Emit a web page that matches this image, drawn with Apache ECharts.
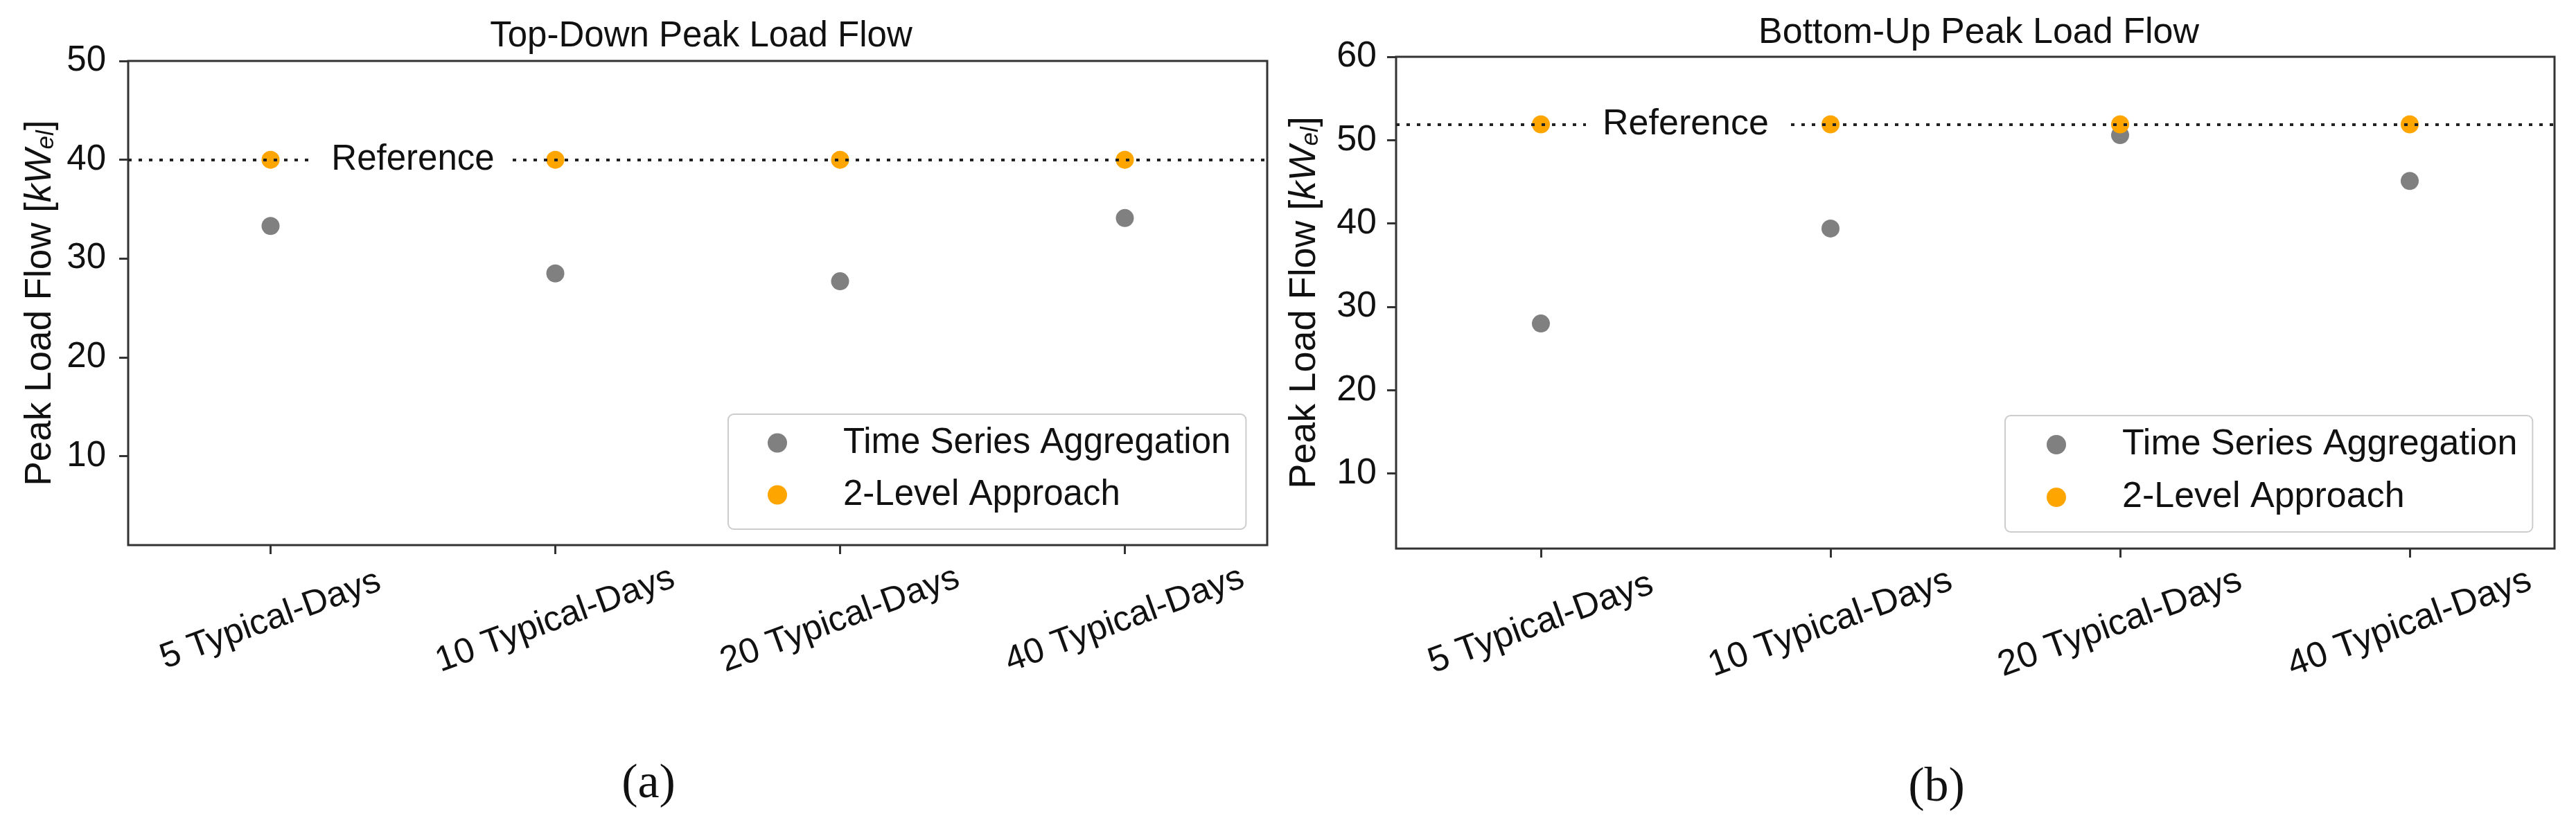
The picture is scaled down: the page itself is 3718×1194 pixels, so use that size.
<!DOCTYPE html>
<html>
<head>
<meta charset="utf-8">
<script src="https://cdn.jsdelivr.net/npm/echarts@6/dist/echarts.min.js"></script>
<style>
  html, body { margin: 0; padding: 0; background: #fff; }
  #chart { width: 3718px; height: 1194px; }
</style>
</head>
<body>
<div id="chart"></div>
<script>
  const CATEGORIES = ["5 Typical-Days", "10 Typical-Days", "20 Typical-Days", "40 Typical-Days"];

  const TOP_DOWN_TSA = [33.3, 28.5, 27.7, 34.1];
  const TOP_DOWN_2L = [40, 40, 40, 40];
  const TOP_DOWN_REF = 40;
  const TOP_DOWN_TICKS = [10, 20, 30, 40, 50];

  const BOTTOM_UP_TSA = [28.0, 39.4, 50.6, 45.1];
  const BOTTOM_UP_2L = [51.9, 51.9, 51.9, 51.9];
  const BOTTOM_UP_REF = 51.9;
  const BOTTOM_UP_TICKS = [10, 20, 30, 40, 50, 60];

  // "Reference" text sits halfway between the first two categories
  const REF_LABEL_X = 0.5;

  const TSA_NAME = "Time Series Aggregation";
  const TWO_LEVEL_NAME = "2-Level Approach";
  const FONT = "'Liberation Sans', Arial, sans-serif";
  const AXIS_COLOR = "#333333";

  function yAxisFor(idx, max, ticks, fs, margin, nameGap) {
    const nfs = fs + 2;
    return {
      type: "value",
      gridIndex: idx,
      min: 1,
      max: max,
      name: "{a|Peak Load Flow [}{b|kW}{c|el}{a|]}",
      nameLocation: "middle",
      nameGap: nameGap,
      nameTextStyle: {
        fontFamily: FONT,
        rich: {
          a: { fontSize: nfs, fontFamily: FONT, color: "#111" },
          b: { fontSize: nfs, fontFamily: FONT, fontStyle: "italic", color: "#111" },
          c: { fontSize: 35, fontFamily: FONT, fontStyle: "italic", color: "#111",
               verticalAlign: "bottom", lineHeight: 40 },
        },
      },
      axisLine: { show: false, onZero: false },
      splitLine: { show: false },
      axisTick: {
        show: true,
        length: 13,
        customValues: ticks,
        lineStyle: { color: AXIS_COLOR, width: 3 },
      },
      axisLabel: {
        customValues: ticks,
        margin: margin,
        fontSize: fs,
        fontFamily: FONT,
        color: "#111",
      },
    };
  }

  function xAxisFor(idx, fs) {
    return {
      type: "category",
      gridIndex: idx,
      data: CATEGORIES,
      boundaryGap: true,
      axisLine: { show: false, onZero: false },
      axisTick: {
        show: true,
        alignWithLabel: true,
        length: 13,
        lineStyle: { color: AXIS_COLOR, width: 3 },
      },
      axisLabel: {
        interval: 0,
        rotate: 20,
        align: "center",
        verticalAlign: "middle",
        margin: 108,
        fontSize: fs,
        fontFamily: FONT,
        color: "#111",
      },
    };
  }

  // hidden value axis spanning the same band as the categories, used to place the text
  function helperXAxis(idx) {
    return {
      type: "value",
      gridIndex: idx,
      min: -0.5,
      max: CATEGORIES.length - 0.5,
      show: false,
    };
  }

  function seriesFor(idx, tsa, twoLevel, ref, fs) {
    return [
      {
        name: TSA_NAME,
        type: "scatter",
        xAxisIndex: idx,
        yAxisIndex: idx,
        symbolSize: 26,
        itemStyle: { color: "#808080", opacity: 1 },
        data: tsa,
      },
      {
        name: TWO_LEVEL_NAME,
        type: "scatter",
        xAxisIndex: idx,
        yAxisIndex: idx,
        symbolSize: 26,
        itemStyle: { color: "#ffa500", opacity: 1 },
        data: twoLevel,
        markLine: {
          z: 6,
          silent: true,
          symbol: "none",
          label: { show: false },
          lineStyle: { color: "#222", width: 4, type: [5, 10] },
          data: [{ yAxis: ref }],
        },
      },
      {
        name: "ref-label",
        type: "scatter",
        xAxisIndex: idx + 2,
        yAxisIndex: idx,
        z: 8,
        silent: true,
        symbol: "rect",
        symbolSize: 1,
        itemStyle: { color: "#fff", opacity: 1 },
        label: {
          show: true,
          position: "inside",
          formatter: "Reference",
          fontSize: fs,
          fontFamily: FONT,
          color: "#111",
          backgroundColor: "#fff",
          padding: [2, 24],
        },
        data: [[REF_LABEL_X, ref]],
      },
    ];
  }

  function legendFor(left, top, fs, padLeft, textPad) {
    return {
      orient: "vertical",
      left: left,
      top: top,
      selectedMode: false,
      icon: "circle",
      itemWidth: 28,
      itemHeight: 28,
      itemGap: 24,
      padding: [16, 22, 24, padLeft],
      backgroundColor: "#fff",
      borderColor: "#cccccc",
      borderWidth: 2,
      borderRadius: 8,
      textStyle: {
        fontSize: fs,
        lineHeight: fs,
        fontFamily: FONT,
        color: "#111",
        padding: [0, 0, 0, textPad],
      },
      data: [TSA_NAME, TWO_LEVEL_NAME],
    };
  }

  const chart = echarts.init(document.getElementById("chart"));

  chart.setOption({
    animation: false,
    backgroundColor: "#fff",
    title: [
      {
        text: "Top-Down Peak Load Flow",
        left: 1007,
        top: 22,
        textAlign: "center",
        textStyle: { fontSize: 51, fontWeight: "normal", fontFamily: FONT, color: "#111" },
      },
      {
        text: "Bottom-Up Peak Load Flow",
        left: 2851,
        top: 17,
        textAlign: "center",
        textStyle: { fontSize: 52, fontWeight: "normal", fontFamily: FONT, color: "#111" },
      },
    ],
    grid: [
      { left: 185, top: 88, width: 1644, height: 699, show: true,
        borderColor: AXIS_COLOR, borderWidth: 3, backgroundColor: "#fff" },
      { left: 2015, top: 82, width: 1672, height: 710, show: true,
        borderColor: AXIS_COLOR, borderWidth: 3, backgroundColor: "#fff" },
    ],
    xAxis: [xAxisFor(0, 51), xAxisFor(1, 52), helperXAxis(0), helperXAxis(1)],
    yAxis: [
      yAxisFor(0, 50, TOP_DOWN_TICKS, 51, 32, 100),
      yAxisFor(1, 60, BOTTOM_UP_TICKS, 52, 28, 105),
    ],
    legend: [
      legendFor(1051, 598, 51, 57, 76),
      legendFor(2894, 600, 52, 60, 76),
    ],
    graphic: [
      { type: "text", x: 936, y: 1133,
        style: { text: "(a)", font: "70px 'Liberation Serif', serif", fill: "#111",
                 textAlign: "center", textVerticalAlign: "middle" } },
      { type: "text", x: 2795, y: 1138,
        style: { text: "(b)", font: "70px 'Liberation Serif', serif", fill: "#111",
                 textAlign: "center", textVerticalAlign: "middle" } },
    ],
    series: [
      ...seriesFor(0, TOP_DOWN_TSA, TOP_DOWN_2L, TOP_DOWN_REF, 51),
      ...seriesFor(1, BOTTOM_UP_TSA, BOTTOM_UP_2L, BOTTOM_UP_REF, 52),
    ],
  });
</script>
</body>
</html>
